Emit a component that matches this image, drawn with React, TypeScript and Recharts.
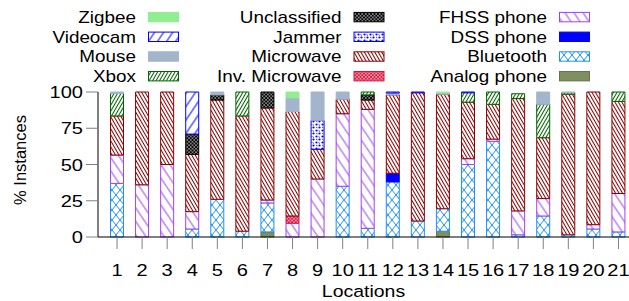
import React from 'react';
import { BarChart, Bar, XAxis, YAxis } from 'recharts';

const locations = ['1','2','3','4','5','6','7','8','9','10','11','12','13','14','15','16','17','18','19','20','21'];

// stacked bottom -> top
const analogPhone = [0,0,0,0,0,0,3.5,0,0,0,0,0,0,4,0,0,0,0,0,0,0];
const bluetooth = [37,0,0,5.5,26,4,20,0,0,35,6,38,11,15.5,50,66,1.5,14.5,1.5,5.5,3.5];
const dssPhone = [0,0,0,0,0,0,0,0,0,0,0,6,0,0,0,0,0,0,0,0,0];
const fhssPhone = [19.5,36,50,12,0,0,2,9.5,40,50,82,0,0,0,4,1.5,16.5,12,0,3,26.5];
const invMicrowave = [0,0,0,0,0,0,0,5,0,0,0,0,0,0,0,0,0,0,0,0,0];
const microwave = [27,64,50,39.5,68.5,79.5,63.5,72,20.5,10,6.5,54,88.5,79,39,24,77.5,42,97,91.5,63.5];
const jammer = [0,0,0,0,0,0,0,0,20,0,0,0,0,0,0,0,0,0,0,0,0];
const unclassified = [0,0,0,14,3.5,0,11,0,0,0,3.5,0,0,0,0,0,0,0,0,0,0];
const xbox = [15.5,0,0,0,0,16.5,0,0,0,0,2,0,0,0,6.5,8.5,3.3,23,1,0,6.5];
const mouse = [1,0,0,0,2,0,0,9.5,19.5,5,0,1.3,0,0.8,0,0,0,8.5,0.5,0,0];
const videocam = [0,0,0,29,0,0,0,0,0,0,0,0.7,0.5,0,0.5,0,0,0,0,0,0];
const zigbee = [0,0,0,0,0,0,0,4,0,0,0,0,0,0.7,0,0,0,0,0,0,0];

const yTicks = [0, 25, 50, 75, 100];

const series = [
  { key: 'analog', name: 'Analog phone', values: analogPhone, stroke: '#66744a' },
  { key: 'bluetooth', name: 'Bluetooth', values: bluetooth, stroke: '#1e90ff' },
  { key: 'dss', name: 'DSS phone', values: dssPhone, stroke: '#0000ff' },
  { key: 'fhss', name: 'FHSS phone', values: fhssPhone, stroke: '#a040f0' },
  { key: 'invmw', name: 'Inv. Microwave', values: invMicrowave, stroke: '#dc143c' },
  { key: 'mw', name: 'Microwave', values: microwave, stroke: '#8b0000' },
  { key: 'jammer', name: 'Jammer', values: jammer, stroke: '#0000ff' },
  { key: 'uncl', name: 'Unclassified', values: unclassified, stroke: '#000000' },
  { key: 'xbox', name: 'Xbox', values: xbox, stroke: '#006400' },
  { key: 'mouse', name: 'Mouse', values: mouse, stroke: '#a2b5cd' },
  { key: 'videocam', name: 'Videocam', values: videocam, stroke: '#0000ff' },
  { key: 'zigbee', name: 'Zigbee', values: zigbee, stroke: '#90ee90' },
];

const data = locations.map((loc, i) => {
  const row: any = { loc };
  series.forEach((s) => { row[s.key] = s.values[i]; });
  return row;
});

const FONT = '"Liberation Sans", Arial, Helvetica, sans-serif';
const SX = 1.18;

function hatch(id: string, color: string, p: number, angle: number, sw = 1) {
  return (
    <pattern id={id} key={id} patternUnits="userSpaceOnUse" width={p} height={p} patternTransform={`rotate(${angle})`}>
      <rect width={p} height={p} fill="#fff" />
      <line x1={p / 2} y1={0} x2={p / 2} y2={p} stroke={color} strokeWidth={sw} />
    </pattern>
  );
}

function cross(id: string, color: string, w: number, h: number, sw = 1) {
  return (
    <pattern id={id} key={id} patternUnits="userSpaceOnUse" width={w} height={h}>
      <rect width={w} height={h} fill="#fff" />
      <line x1={0} y1={0} x2={w} y2={h} stroke={color} strokeWidth={sw} />
      <line x1={w} y1={0} x2={0} y2={h} stroke={color} strokeWidth={sw} />
    </pattern>
  );
}

function PatternDefs() {
  return (
    <svg width={0} height={0} style={{ position: 'absolute' }}>
      <defs>
        <pattern id="p-analog" patternUnits="userSpaceOnUse" width={4} height={4}>
          <rect width={4} height={4} fill="#808f60" />
        </pattern>
        {cross('p-bluetooth', '#1e90ff', 8, 10, 1)}
        <pattern id="p-dss" patternUnits="userSpaceOnUse" width={4} height={4}>
          <rect width={4} height={4} fill="#0000ff" />
        </pattern>
        {hatch('p-fhss', '#a040f0', 7.5, -34, 1)}
        {cross('p-invmw', '#dc143c', 3.5, 3.5, 1.1)}
        {hatch('p-mw', '#8b0000', 3, -30, 1)}
        <pattern id="p-jammer" patternUnits="userSpaceOnUse" width={6} height={6}>
          <rect width={6} height={6} fill="#fff" />
          <circle cx={1.5} cy={1.5} r={1.1} fill="#0000ff" />
          <circle cx={4.5} cy={4.5} r={1.1} fill="#0000ff" />
          <path d="M4 1 L5.5 2" stroke="#0000ff" strokeWidth={0.8} />
          <path d="M0.5 4.5 L2 5.5" stroke="#0000ff" strokeWidth={0.8} />
        </pattern>
        {cross('p-uncl', '#000000', 3.5, 3.5, 1.2)}
        {hatch('p-xbox', '#006400', 3, 30, 1)}
        <pattern id="p-mouse" patternUnits="userSpaceOnUse" width={4} height={4}>
          <rect width={4} height={4} fill="#a2b5cd" />
        </pattern>
        {hatch('p-videocam', '#0000ff', 7.5, 34, 1)}
        <pattern id="p-zigbee" patternUnits="userSpaceOnUse" width={4} height={4}>
          <rect width={4} height={4} fill="#90ee90" />
        </pattern>
      </defs>
    </svg>
  );
}

function YTick(props: any) {
  const { y, payload } = props;
  return (
    <text transform={`translate(83,${y + 6}) scale(${SX},1)`} textAnchor="end" fontSize={17} fontFamily={FONT} fill="#000">
      {payload.value}
    </text>
  );
}

function XTick(props: any) {
  const { x, payload } = props;
  return (
    <text transform={`translate(${x},275.7) scale(${SX},1)`} textAnchor="middle" fontSize={17} fontFamily={FONT} fill="#000">
      {payload.value}
    </text>
  );
}

function Legend() {
  const ordered = [...series].reverse();
  const colRight = [136, 341.5, 547];
  const rowBase = [22.8, 42.5, 62.2, 81.9];
  return (
    <svg width={629} height={92} style={{ position: 'absolute', left: 0, top: 0 }}>
      {ordered.map((s, i) => {
        const c = Math.floor(i / 4);
        const r = i % 4;
        const xr = colRight[c];
        const yb = rowBase[r];
        return (
          <g key={s.key}>
            <text transform={`translate(${xr},${yb}) scale(${SX},1)`} textAnchor="end" fontSize={16} fontFamily={FONT} fill="#000">
              {s.name}
            </text>
            <rect x={xr + 12.5} y={yb - 10.4} width={30} height={9.4} fill={`url(#p-${s.key})`} stroke={s.stroke} strokeWidth={1} />
          </g>
        );
      })}
    </svg>
  );
}

export default function App() {
  return (
    <div style={{ position: 'absolute', left: 0, top: 0, width: 629, height: 301, overflow: 'hidden', background: '#fff' }}>
      <PatternDefs />
      <BarChart width={631} height={301} data={data} margin={{ top: 92, right: 0, bottom: 0, left: 0 }} barSize={13}>
        <XAxis
          dataKey="loc"
          type="category"
          height={64}
          padding={{ left: 6.5, right: 0 }}
          tickSize={12}
          tickLine={{ stroke: '#808080' }}
          axisLine={{ stroke: '#000' }}
          tick={<XTick />}
          interval={0}
          label={{
            value: 'Locations',
            content: () => (
              <text transform={`translate(363.5,297) scale(${SX},1)`} textAnchor="middle" fontSize={16.5} fontFamily={FONT} fill="#000">
                Locations
              </text>
            ),
          }}
        />
        <YAxis
          type="number"
          domain={[0, 100]}
          ticks={yTicks}
          width={98}
          tickSize={12}
          tickLine={{ stroke: '#808080' }}
          axisLine={{ stroke: '#000' }}
          tick={<YTick />}
          interval={0}
          label={{
            value: '% Instances',
            content: () => (
              <text transform="translate(26,160) rotate(-90)" textAnchor="middle" fontSize={16.5} fontFamily={FONT} fill="#000">
                % Instances
              </text>
            ),
          }}
        />
        {series.map((s) => (
          <Bar
            key={s.key}
            dataKey={s.key}
            name={s.name}
            stackId="a"
            fill={`url(#p-${s.key})`}
            stroke={s.stroke}
            strokeWidth={1}
            isAnimationActive={false}
          />
        ))}
      </BarChart>
      <Legend />
    </div>
  );
}
